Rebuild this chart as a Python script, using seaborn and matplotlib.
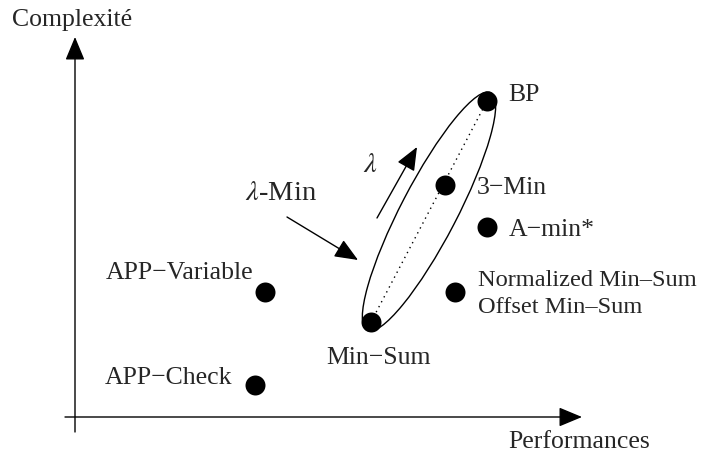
import matplotlib.pyplot as plt
import pandas as pd
import seaborn as sns
from matplotlib.patches import Ellipse

# algorithm positions on the (performance, complexity) plane
methods = ["BP", "3\u2212Min", "A\u2212min*", "Normalized Min\u2013Sum\nOffset Min\u2013Sum",
           "Min\u2212Sum", "APP\u2212Variable", "APP\u2212Check"]
performance = [487, 445, 487, 455, 371, 265, 255]
complexity = [354, 270, 228, 163, 133, 163, 70]

# label placement (offset in pixels, alignment, font size)
label_layout = {
    "BP": ((21, 6), "left", 18.5),
    "3\u2212Min": ((32, -3), "left", 18.5),
    "A\u2212min*": ((22, -3), "left", 18.5),
    "Normalized Min\u2013Sum\nOffset Min\u2013Sum": ((23, -2), "left", 17.6),
    "Min\u2212Sum": ((8, -36), "center", 18.5),
    "APP\u2212Variable": ((-12, 19), "right", 18.5),
    "APP\u2212Check": ((-23, 7), "right", 18.5),
}

sns.set_theme(style="white")
plt.rcParams["font.family"] = ["Liberation Serif", "DejaVu Serif"]
plt.rcParams["mathtext.fontset"] = "stix"
FS = 18.5

df = pd.DataFrame({"method": methods, "performance": performance, "complexity": complexity})

fig = plt.figure(figsize=(7.06, 4.55), dpi=100)
ax = fig.add_axes([0, 0, 1, 1])
ax.set_xlim(0, 706)
ax.set_ylim(0, 455)
ax.axis("off")

# axes arrows
arrow_kw = dict(arrowstyle="-|>,head_length=1.2,head_width=0.5", color="black", lw=1.0,
                shrinkA=0, shrinkB=0)
ax.annotate("", xy=(582, 38), xytext=(65, 38), arrowprops=arrow_kw)
ax.annotate("", xy=(75, 418), xytext=(75, 23), arrowprops=arrow_kw)
ax.text(12, 435, "Complexit\u00e9", fontsize=FS, va="center", ha="left")
ax.text(508, 13, "Performances", fontsize=FS, va="center", ha="left")

# lambda-Min family: ellipse and dotted line between Min-Sum and BP
bp = df.loc[df["method"] == "BP"].iloc[0]
ms = df.loc[df["method"] == "Min\u2212Sum"].iloc[0]
ax.plot([ms.performance, bp.performance], [ms.complexity, bp.complexity],
        ls=(0, (1, 3)), color="black", lw=1.0, zorder=1)
ell = Ellipse(((bp.performance + ms.performance) / 2, (bp.complexity + ms.complexity) / 2),
              width=268, height=56, angle=62.5, fill=False, ec="black", lw=1.0, zorder=1)
ax.add_patch(ell)

sns.scatterplot(data=df, x="performance", y="complexity", s=207, color="black",
                edgecolor="black", linewidth=0, legend=False, ax=ax, zorder=3)

for m, x, y in zip(methods, performance, complexity):
    off, ha, fs = label_layout[m]
    ax.annotate(m, (x, y), xytext=off, textcoords="offset pixels", ha=ha, va="center",
                fontsize=fs, linespacing=1.4)

ax.text(245, 262, r"$\lambda$-Min", fontsize=20.5, va="center", ha="left")
ax.annotate("", xy=(358, 195), xytext=(287, 238), arrowprops=arrow_kw)
ax.text(370, 290, r"$\lambda$", fontsize=20.5, va="center", ha="center")
ax.annotate("", xy=(417, 308), xytext=(377, 237), arrowprops=arrow_kw)

fig.savefig("out.png", dpi=100)
plt.close(fig)
